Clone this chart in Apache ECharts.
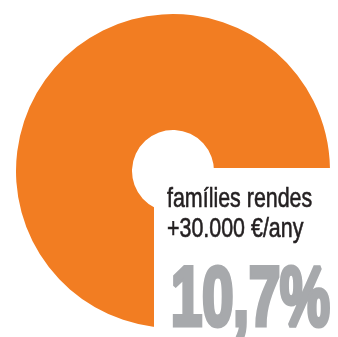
<!DOCTYPE html>
<html>
<head>
<meta charset="utf-8">
<style>
  html, body { margin: 0; padding: 0; background: #ffffff; }
  #chart { width: 338px; height: 337px; }
</style>
<script src="https://cdn.jsdelivr.net/npm/echarts@6/dist/echarts.min.js"></script>
</head>
<body>
<div id="chart"></div>
<script>
// Share of families by income band (percent)
const categories = ['famílies rendes +30.000 €/any', 'resta de famílies'];
const shares = [10.7, 89.3];
// Caption lines shown beside the highlighted share
const captionLines = ['famílies rendes', '+30.000 €/any'];

const ORANGE = '#F27D22';
const GREY = '#A7A9AC';
const INK = '#231F20';

const pctText = shares[0].toFixed(1).replace('.', ',') + '%';

const chart = echarts.init(document.getElementById('chart'), null, { renderer: 'canvas' });

chart.setOption({
  backgroundColor: '#ffffff',
  animation: false,
  series: [{
    type: 'pie',
    center: [173, 171],
    radius: [41, 157],
    startAngle: -25,
    clockwise: true,
    silent: true,
    label: { show: false },
    labelLine: { show: false },
    emphasis: { disabled: true },
    itemStyle: { borderWidth: 0 },
    data: [
      { name: categories[0], value: shares[0], itemStyle: { color: '#ffffff' } },
      { name: categories[1], value: shares[1], itemStyle: { color: ORANGE } }
    ]
  }],
  graphic: {
    elements: [
      {
        type: 'rect', z: 100,
        shape: { x: 154, y: 168, width: 184, height: 169 },
        style: { fill: '#ffffff' }
      },
      {
        type: 'text', z: 101, x: 167, y: 199, scaleX: 0.765,
        style: {
          text: captionLines[0], fill: INK, stroke: INK, lineWidth: 0.6,
          font: '28px "Liberation Sans", Arial, sans-serif',
          align: 'left', verticalAlign: 'middle'
        }
      },
      {
        type: 'text', z: 101, x: 167, y: 229, scaleX: 0.765,
        style: {
          text: captionLines[1], fill: INK, stroke: INK, lineWidth: 0.6,
          font: '28px "Liberation Sans", Arial, sans-serif',
          align: 'left', verticalAlign: 'middle'
        }
      },
      {
        type: 'text', z: 101, x: 171, y: 302, scaleX: 0.675,
        style: {
          text: pctText, fill: GREY, stroke: GREY, lineWidth: 5,
          font: 'bold 83px "Liberation Sans", Arial, sans-serif',
          align: 'left', verticalAlign: 'middle'
        }
      }
    ]
  }
});
</script>
</body>
</html>
